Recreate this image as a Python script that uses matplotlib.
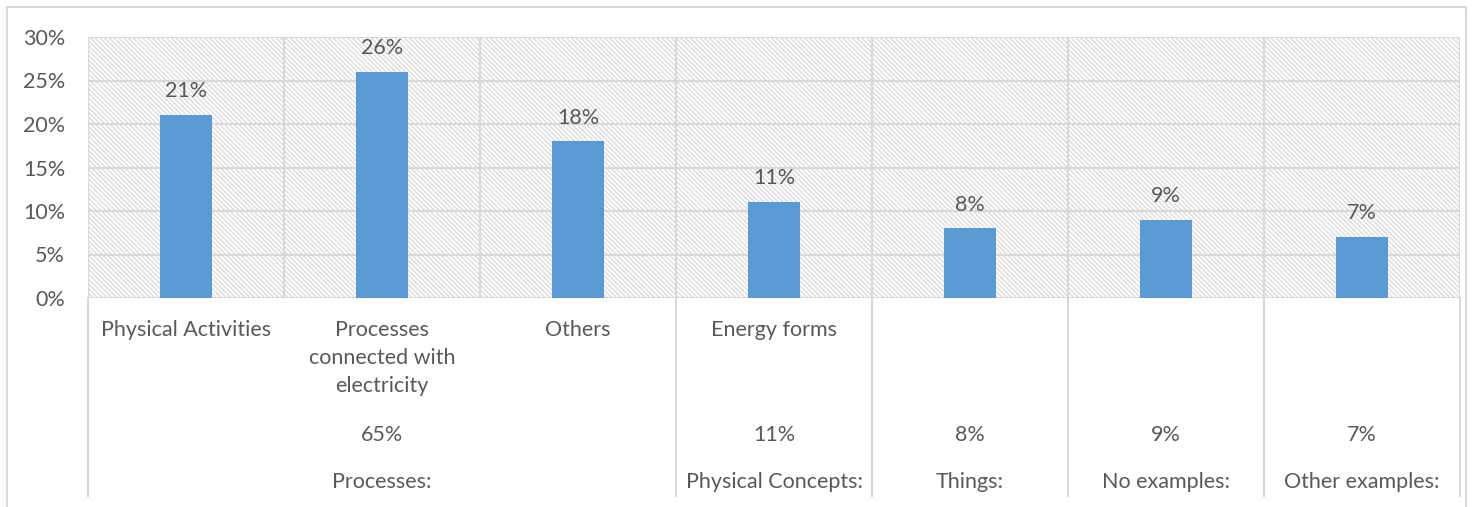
import numpy as np
import matplotlib.pyplot as plt
from matplotlib.patches import Rectangle

plt.rcParams["font.family"] = ["Lato", "DejaVu Sans"]
plt.rcParams["hatch.linewidth"] = 1.0
plt.rcParams["hatch.color"] = "#dcdcdc"

categories = ["Physical Activities", "Processes\nconnected with\nelectricity", "Others",
              "Energy forms", "", "", ""]
values = [21, 26, 18, 11, 8, 9, 7]
groups = ["Processes:", "Physical Concepts:", "Things:", "No examples:", "Other examples:"]
group_share = [65, 11, 8, 9, 7]
group_sizes = [3, 1, 1, 1, 1]
yticks = [0, 5, 10, 15, 20, 25, 30]

W, H = 1473, 507
grid = "#d9d9d9"
txt = "#595959"
fs = 15.5

fig = plt.figure(figsize=(W / 100, H / 100), dpi=100)
# plot area in pixels: x 88..1460, y 37..298
left, right, top, bottom = 88, 1460, 37, 298
ax = fig.add_axes([left / W, 1 - bottom / H, (right - left) / W, (bottom - top) / H])

def yfrac(py):
    # pixel row -> axes fraction (for text under the plot area)
    return (bottom - py) / (bottom - top)

x = np.arange(len(values))
ax.set_xlim(-0.5, len(values) - 0.5)
ax.set_ylim(0, 30)

# patterned background
ax.add_patch(Rectangle((0, 0), 1, 1, transform=ax.transAxes, facecolor="white",
                       edgecolor="#dcdcdc", hatch="\\\\\\\\\\\\\\", lw=0, zorder=0))

for v in yticks:
    ax.axhline(v, color=grid, lw=1.5, zorder=1)
for b in np.arange(-0.5, len(values), 1.0):
    ax.axvline(b, color=grid, lw=1.5, zorder=1)

bars = ax.bar(x, values, width=0.27, color="#5b9bd5", zorder=3)
for xi, v in zip(x, values):
    ax.annotate(f"{v}%", (xi, v), xytext=(0, 10), textcoords="offset points",
                ha="center", va="bottom", fontsize=fs, color=txt)

ax.set_yticks(yticks)
ax.set_yticklabels([f"{v}%" for v in yticks], fontsize=fs, color=txt)
ax.tick_params(left=False, bottom=False, labelbottom=False, pad=13)
for s in ax.spines.values():
    s.set_visible(False)

tr = ax.get_xaxis_transform()
# first-level category names
for xi, c in zip(x, categories):
    ax.text(xi, yfrac(320), c, transform=tr, ha="center", va="top",
            fontsize=fs, color=txt, linespacing=1.5, clip_on=False)

# group separators running down through the label area
edges = np.concatenate([[0], np.cumsum(group_sizes)]) - 0.5
for e in edges:
    ax.plot([e, e], [0, yfrac(496)], transform=tr, color=grid, lw=1.5, clip_on=False)

# group labels with their shares
for i, (g, s) in enumerate(zip(groups, group_share)):
    cx = (edges[i] + edges[i + 1]) / 2
    ax.text(cx, yfrac(435), f"{s}%", transform=tr, ha="center", va="center",
            fontsize=fs, color=txt, clip_on=False)
    ax.text(cx, yfrac(482), g, transform=tr, ha="center", va="center",
            fontsize=fs, color=txt, clip_on=False)

# chart border
fig.add_artist(Rectangle((7 / W, -0.05), (1466 - 7) / W, 1 - 7 / H + 0.05,
                         transform=fig.transFigure, fill=False, edgecolor=grid, lw=1.5))

fig.savefig("out.png", dpi=100, facecolor="white")
